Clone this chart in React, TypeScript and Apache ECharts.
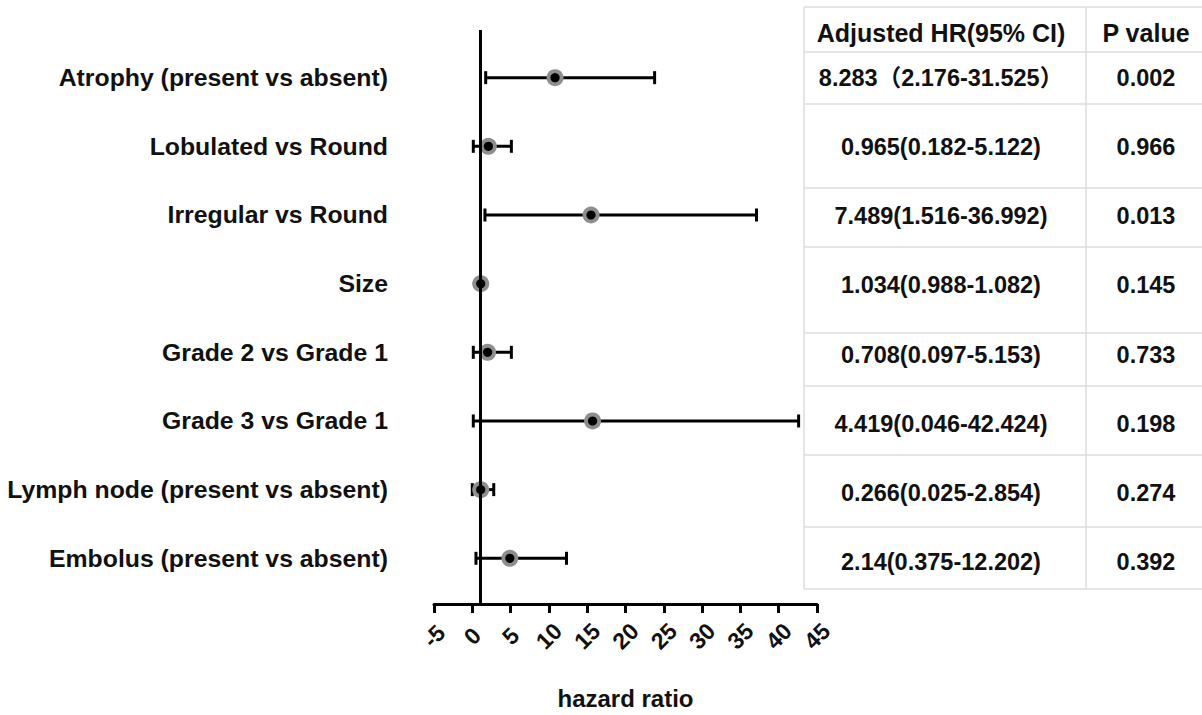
import React, { useEffect, useRef } from "react";
import * as echarts from "echarts";

// ---------- data ----------
const categories = [
  "Atrophy (present vs absent)",
  "Lobulated vs Round",
  "Irregular vs Round",
  "Size",
  "Grade 2 vs Grade 1",
  "Grade 3 vs Grade 1",
  "Lymph node (present vs absent)",
  "Embolus (present vs absent)",
];
// values as plotted
const hrPoint = [10.8, 2.1, 15.5, 1.1, 2.0, 15.7, 1.1, 4.9];
const ciLow = [1.75, 0.13, 1.65, 1.0, 0.13, 0.13, 0.0, 0.48];
const ciHigh = [23.8, 5.1, 37.1, 1.1, 5.1, 42.6, 2.8, 12.3];
const referenceHR = 1;

// table
const tableHeaders = ["Adjusted HR(95% CI)", "P value"];
const hrText = [
  "8.283（2.176-31.525）",
  "0.965(0.182-5.122)",
  "7.489(1.516-36.992)",
  "1.034(0.988-1.082)",
  "0.708(0.097-5.153)",
  "4.419(0.046-42.424)",
  "0.266(0.025-2.854)",
  "2.14(0.375-12.202)",
];
const pValues = ["0.002", "0.966", "0.013", "0.145", "0.733", "0.198", "0.274", "0.392"];

const xMin = -5;
const xMax = 45;
const xInterval = 5;
const xName = "hazard ratio";

// ---------- layout ----------
const FONT = "'Liberation Sans', Arial, 'Noto Sans CJK SC', sans-serif";
const GRID_LEFT = 434;
const GRID_RIGHT_X = 817;
const GRID_TOP = 30;
const AXIS_Y = 608;
const ROW0_Y = 78;
const ROW_STEP = 69.14;
const Y_MIN = -(ROW0_Y - GRID_TOP) / ROW_STEP;
const Y_MAX = (AXIS_Y - ROW0_Y) / ROW_STEP;

const TABLE_LEFT = 804;
const TABLE_DIV = 1086;
const TABLE_RIGHT = 1202;
const TABLE_LINES_Y = [7, 52, 104, 188, 247, 333, 386, 455, 527, 589];
const HEADER_Y = 33;
const COL1_X = 941;
const COL2_X = 1146;

export default function App() {
  const ref = useRef<HTMLDivElement>(null);

  useEffect(() => {
    if (!ref.current) return;
    const chart = echarts.init(ref.current, null, { renderer: "svg" });

    const seriesData = categories.map((_, i) => [i, ciLow[i], hrPoint[i], ciHigh[i]]);

    const graphics: any[] = [];
    const lineStyle = { stroke: "#dcdcdc", lineWidth: 1.5 };
    TABLE_LINES_Y.forEach((y) => {
      graphics.push({
        type: "line",
        silent: true,
        shape: { x1: TABLE_LEFT, y1: y, x2: TABLE_RIGHT, y2: y },
        style: lineStyle,
      });
    });
    const yTop = TABLE_LINES_Y[0];
    const yBot = TABLE_LINES_Y[TABLE_LINES_Y.length - 1];
    [TABLE_LEFT, TABLE_DIV].forEach((x) => {
      graphics.push({
        type: "line",
        silent: true,
        shape: { x1: x, y1: yTop, x2: x, y2: yBot },
        style: lineStyle,
      });
    });
    const textStyle = (text: string, size: number) => ({
      text,
      fontSize: size,
      fontWeight: "bold",
      fontFamily: FONT,
      fill: "#111",
      align: "center",
      verticalAlign: "middle",
    });
    graphics.push({ type: "text", x: COL1_X, y: HEADER_Y, style: textStyle(tableHeaders[0], 25) });
    graphics.push({ type: "text", x: COL2_X, y: HEADER_Y, style: textStyle(tableHeaders[1], 25) });
    categories.forEach((_, i) => {
      const y = ROW0_Y + ROW_STEP * i;
      graphics.push({ type: "text", x: COL1_X, y, style: textStyle(hrText[i], 23.5) });
      graphics.push({ type: "text", x: COL2_X, y, style: textStyle(pValues[i], 23.5) });
    });

    const option: any = {
      animation: false,
      backgroundColor: "#fff",
      textStyle: { fontFamily: FONT },
      grid: {
        left: GRID_LEFT,
        width: GRID_RIGHT_X - GRID_LEFT,
        top: GRID_TOP,
        height: AXIS_Y - GRID_TOP,
        containLabel: false,
      },
      xAxis: {
        type: "value",
        min: xMin,
        max: xMax,
        interval: xInterval,
        name: xName,
        nameLocation: "middle",
        nameGap: 94,
        nameTextStyle: {
          fontSize: 24,
          fontWeight: "bold",
          color: "#111",
          fontFamily: FONT,
          verticalAlign: "middle",
        },
        axisLine: { show: true, onZero: false, lineStyle: { color: "#000", width: 3 } },
        axisTick: { show: true, length: 9, lineStyle: { color: "#000", width: 3 } },
        axisLabel: {
          rotate: 45,
          fontSize: 23,
          fontWeight: "bold",
          color: "#111",
          fontFamily: FONT,
          align: "center",
          verticalAlign: "middle",
          margin: 32,
        },
        splitLine: { show: false },
      },
      yAxis: {
        type: "value",
        inverse: true,
        min: Y_MIN,
        max: Y_MAX,
        axisLine: { show: false },
        axisTick: { show: false },
        splitLine: { show: false },
        axisLabel: {
          customValues: categories.map((_, i) => i),
          formatter: (v: number) => categories[Math.round(v)] ?? "",
          fontSize: 24.8,
          fontWeight: "bold",
          color: "#111",
          fontFamily: FONT,
          margin: 46,
        },
      },
      series: [
        {
          type: "custom",
          data: seriesData,
          encode: { x: [1, 2, 3], y: 0 },
          clip: false,
          renderItem: (params: any, api: any) => {
            const i = api.value(0);
            const pLo = api.coord([api.value(1), i]);
            const pE = api.coord([api.value(2), i]);
            const pHi = api.coord([api.value(3), i]);
            const cap = 6.5;
            const st = { stroke: "#000", lineWidth: 3 };
            return {
              type: "group",
              children: [
                { type: "line", shape: { x1: pLo[0], y1: pLo[1], x2: pHi[0], y2: pHi[1] }, style: st },
                { type: "line", shape: { x1: pLo[0], y1: pLo[1] - cap, x2: pLo[0], y2: pLo[1] + cap }, style: st },
                { type: "line", shape: { x1: pHi[0], y1: pHi[1] - cap, x2: pHi[0], y2: pHi[1] + cap }, style: st },
                { type: "circle", shape: { cx: pE[0], cy: pE[1], r: 8.5 }, style: { fill: "#8e8e8e" } },
                { type: "circle", shape: { cx: pE[0], cy: pE[1], r: 4.6 }, style: { fill: "#000" } },
              ],
            };
          },
          markLine: {
            silent: true,
            symbol: "none",
            label: { show: false },
            lineStyle: { color: "#000", width: 3, type: "solid" },
            data: [{ xAxis: referenceHR }],
          },
          z: 3,
        },
      ],
      graphic: graphics,
    };

    chart.setOption(option);
    return () => chart.dispose();
  }, []);

  return (
    <div
      ref={ref}
      style={{ position: "fixed", left: 0, top: 0, width: 1202, height: 715, background: "#fff" }}
    />
  );
}
